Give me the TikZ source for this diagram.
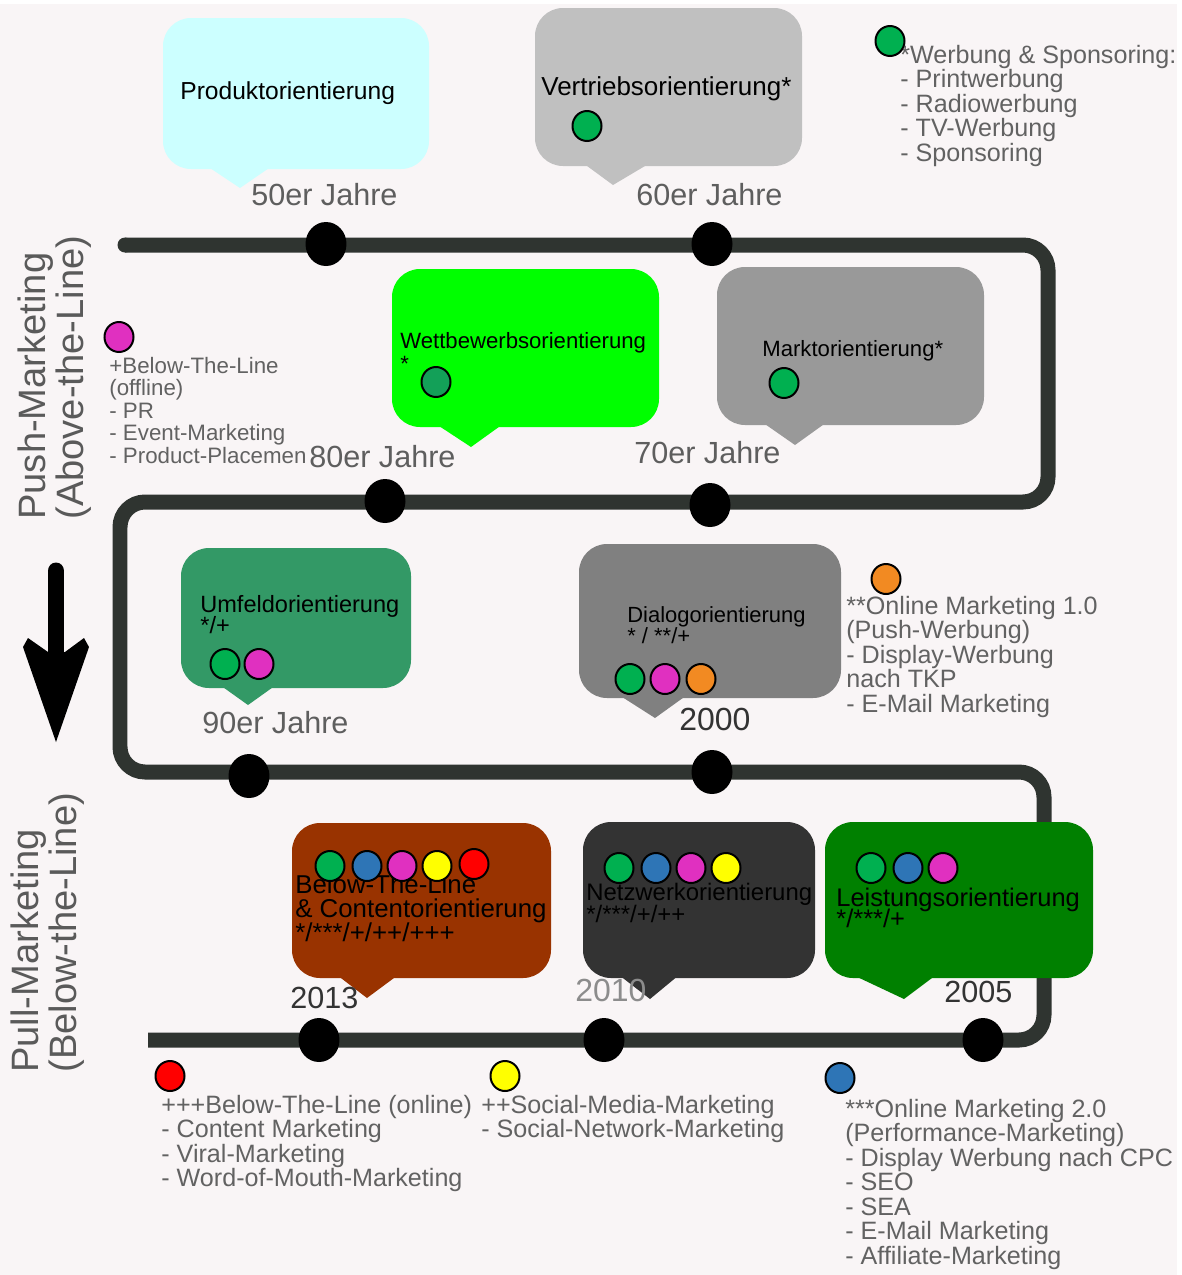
\documentclass[tikz,border=0pt]{standalone}
\usepackage{fontspec}
\setmainfont{Liberation Sans}
\usetikzlibrary{shapes.geometric}

\definecolor{bgc}{HTML}{F9F5F6}
\definecolor{trackc}{HTML}{2F3430}
\definecolor{notegrey}{HTML}{626262}
\definecolor{labgrey}{HTML}{5A5A5A}
\definecolor{yeargrey}{HTML}{5E5E5E}
\definecolor{yeardark}{HTML}{333333}
\definecolor{yearlight}{HTML}{8C8C8C}
% callout fills
\definecolor{cProd}{HTML}{CCFFFF}
\definecolor{cVert}{HTML}{C0C0C0}
\definecolor{cWett}{HTML}{00FF00}
\definecolor{cMarkt}{HTML}{999999}
\definecolor{cUmf}{HTML}{339966}
\definecolor{cDial}{HTML}{808080}
\definecolor{cBTL}{HTML}{993300}
\definecolor{cNetz}{HTML}{333333}
\definecolor{cLeist}{HTML}{008000}
% key dots
\definecolor{kGreen}{HTML}{00B050}
\definecolor{kGreenB}{HTML}{13A058}
\definecolor{kMag}{HTML}{E030C0}
\definecolor{kOrange}{HTML}{F28A22}
\definecolor{kBlue}{HTML}{2E75B6}
\definecolor{kYellow}{HTML}{FFFF00}
\definecolor{kRed}{HTML}{FF0000}

\newcommand{\fsz}[2]{\fontsize{#1}{#2}\selectfont\lineskiplimit=-\maxdimen}
% speech bubble: colour, left, top, right, bottom, pointer left, pointer right, tip x, tip y
\newcommand{\bubble}[9]{%
  \fill[#1, rounded corners=0.56cm] (#2,#3) rectangle (#4,#5);
  \fill[#1] (#6,#5-3) -- (#8,#9) -- (#7,#5-3) -- cycle;}

\begin{document}
\begin{tikzpicture}[x=0.02cm, y=-0.02cm,
  track/.style={line width=0.3cm, draw=trackc, rounded corners=0.5cm},
  stopdot/.style={ellipse, fill=black, minimum width=0.82cm, minimum height=0.88cm, inner sep=0},
  keydot/.style={ellipse, draw=black, line width=0.04cm, minimum width=0.58cm, minimum height=0.6cm, inner sep=0},
  boxtext/.style={inner sep=0, anchor=north west, align=left, text=black},
  boxline/.style={inner sep=0, anchor=base west, text=black},
  note/.style={inner sep=0, anchor=north west, align=left, text=notegrey, font=\fsz{14.3}{13.9}},
  year/.style={inner sep=0, anchor=base west, text=yeargrey, font=\fsz{17.4}{20}},
  sidelabel/.style={rotate=90, anchor=south west, inner sep=0, align=left, text=labgrey, font=\fsz{21.7}{21.5}}]

\fill[white] (0,0) rectangle (1181,1275);
\fill[bgc] (0,4) rectangle (1177,1275);
\useasboundingbox (0,0) rectangle (1181,1275);

% serpentine time track (round start, square end)
\coordinate (a0) at (125,245);
\coordinate (a1) at (1048,245);
\coordinate (a2) at (1048,502);
\coordinate (a3) at (120,502);
\coordinate (a4) at (120,772);
\coordinate (a5) at (1044,772);
\coordinate (a6) at (1044,1040);
\coordinate (a7) at (148,1040);
\draw[track] (a0) -- (a1) -- (a2) -- (a3) -- (a4) -- (a5) -- (a6) -- (a7);
\fill[trackc] (a0) circle[radius=7.5];

% stops on the track
\node[stopdot] (s50) at (326,244) {};
\node[stopdot] (s60) at (712,244) {};
\node[stopdot] (s80) at (385,501) {};
\node[stopdot] (s70) at (710,505) {};
\node[stopdot] (s90) at (249,776) {};
\node[stopdot] (s2000) at (712,772) {};
\node[stopdot] (s2013) at (319,1040) {};
\node[stopdot] (s2010) at (604,1040) {};
\node[stopdot] (s2005) at (983,1040) {};

% speech bubbles
\bubble{cProd}{163}{18}{429}{169}{207}{272}{240}{188}
\bubble{cVert}{535}{8}{802}{166}{583}{650}{613}{185}
\bubble{cWett}{392}{269}{659}{427}{436}{503}{471}{447}
\bubble{cMarkt}{717}{267}{984}{425}{762}{827}{795}{445}
\bubble{cUmf}{181}{548}{411}{688}{220}{276}{248}{705}
\bubble{cDial}{579}{544}{841}{698}{619}{687}{655}{718}
\bubble{cBTL}{292}{823}{551}{978}{337}{398}{367}{998}
\bubble{cNetz}{583}{822}{815}{978}{619}{679}{650}{999}
\bubble{cLeist}{825}{822}{1093}{978}{853}{936}{904}{999}

% bubble texts
\node[boxline, font=\fsz{14}{14}] (tProd) at (180,99) {Produktorientierung};
\node[boxline, font=\fsz{14.8}{15}] (tVert) at (541,95) {Vertriebsorientierung*};
\node[boxtext, font=\fsz{12.6}{13}] (tWett) at (400,332) {\vphantom{(}Wettbewerbsorientierung\\{}*};
\node[boxline, font=\fsz{12.6}{13}] (tMarkt) at (762,356) {Marktorientierung*};
\node[boxtext, font=\fsz{13.4}{11.9}] (tUmf) at (200,595) {\vphantom{(}Umfeldorientierung\\{}*/+};
\node[boxtext, font=\fsz{12.5}{11.9}] (tDial) at (627,606) {\vphantom{(}Dialogorientierung\\{}* / **/+};
\node[boxtext, font=\fsz{14.7}{13.9}] (tBTL) at (295,874) {\vphantom{(}Below-The-Line\\\& Contentorientierung\\{}*/***/+/++/+++};
\node[boxtext, font=\fsz{13.6}{12.5}] (tNetz) at (586,882.5) {\vphantom{(}Netzwerkorientierung\\{}*/***/+/++};
\node[boxtext, font=\fsz{14.5}{11.9}] (tLeist) at (836,888) {\vphantom{(}Leistungsorientierung\\{}*/***/+};

% side notes
\node[note] (nWerb) at (900,45) {\vphantom{(}*Werbung \& Sponsoring:\\- Printwerbung\\- Radiowerbung\\- TV-Werbung\\- Sponsoring};
\node[note, font=\fsz{12.7}{12.75}] (nBTLoff) at (109,357) {\vphantom{(}+Below-The-Line\\(offline)\\- PR\\- Event-Marketing\\- Product-Placement};
\node[note] (nOM1) at (846,596) {\vphantom{(}**Online Marketing 1.0\\(Push-Werbung)\\- Display-Werbung\\nach TKP\\- E-Mail Marketing};
\node[note] (nBTLon) at (161,1095) {\vphantom{(}+++Below-The-Line (online)\\- Content Marketing\\- Viral-Marketing\\- Word-of-Mouth-Marketing};
\node[note] (nSoc) at (481,1095) {\vphantom{(}++Social-Media-Marketing\\- Social-Network-Marketing};
\node[note] (nOM2) at (845,1099) {\vphantom{(}***Online Marketing 2.0\\(Performance-Marketing)\\- Display Werbung nach CPC\\- SEO\\- SEA\\- E-Mail Marketing\\- Affiliate-Marketing};

% period labels
\node[year] (y50) at (251,205) {50er Jahre};
\node[year] (y60) at (636,205) {60er Jahre};
\node[year, fill=bgc, inner xsep=0.06cm] (y80) at (306,467) {80er Jahre};
\node[year] (y70) at (634,463) {70er Jahre};
\node[year] (y90) at (202,733) {90er Jahre};
\node[year, text=yeardark, font=\fsz{18.2}{20}] (y2000) at (679,730) {2000};
\node[year, text=yeardark] (y2013) at (290,1008) {2013};
\node[year, text=yearlight, font=\fsz{18.2}{20}] (y2010) at (575,1001) {2010};
\node[year, text=yeardark] (y2005) at (944,1002) {2005};

% key dots
\node[keydot, fill=kGreen] (kWerb) at (890,41) {};
\node[keydot, fill=kMag] (kBTLoff) at (119,337) {};
\node[keydot, fill=kOrange] (kOM1) at (886,579) {};
\node[keydot, fill=kRed] (kBTLon) at (170,1076) {};
\node[keydot, fill=kYellow] (kSoc) at (505,1076) {};
\node[keydot, fill=kBlue] (kOM2) at (840,1078) {};

\node[keydot, fill=kGreen] (dVert) at (587,126) {};
\node[keydot, fill=kGreenB] (dWett) at (436,382) {};
\node[keydot, fill=kGreen] (dMarkt) at (784,383) {};
\node[keydot, fill=kGreen] (dUmf1) at (225,664) {};
\node[keydot, fill=kMag] (dUmf2) at (259,664) {};
\node[keydot, fill=kGreen] (dDial1) at (630,679) {};
\node[keydot, fill=kMag] (dDial2) at (665,679) {};
\node[keydot, fill=kOrange] (dDial3) at (701,679) {};
\node[keydot, fill=kGreen] (dBTL1) at (330,866) {};
\node[keydot, fill=kBlue] (dBTL2) at (367,866) {};
\node[keydot, fill=kMag] (dBTL3) at (402,866) {};
\node[keydot, fill=kYellow] (dBTL4) at (437,866) {};
\node[keydot, fill=kRed] (dBTL5) at (474,864) {};
\node[keydot, fill=kGreen] (dNetz1) at (619,868) {};
\node[keydot, fill=kBlue] (dNetz2) at (656,868) {};
\node[keydot, fill=kMag] (dNetz3) at (691,868) {};
\node[keydot, fill=kYellow] (dNetz4) at (726,868) {};
\node[keydot, fill=kGreen] (dLeist1) at (871,868) {};
\node[keydot, fill=kBlue] (dLeist2) at (908,868) {};
\node[keydot, fill=kMag] (dLeist3) at (943,868) {};

% side headings
\node[sidelabel] (lPush) at (92,520) {Push-Marketing\\(Above-the-Line)};
\node[sidelabel] (lPull) at (85,1073) {Pull-Marketing\\(Below-the-Line)};

% push-to-pull arrow
\draw[line width=0.34cm, line cap=round] (56,571) -- (56,655);
\fill (56,742) -- (23,647) -- (28,638) -- (48,652) -- (65,652) -- (84,638) -- (89,647) -- cycle;

\end{tikzpicture}
\end{document}
